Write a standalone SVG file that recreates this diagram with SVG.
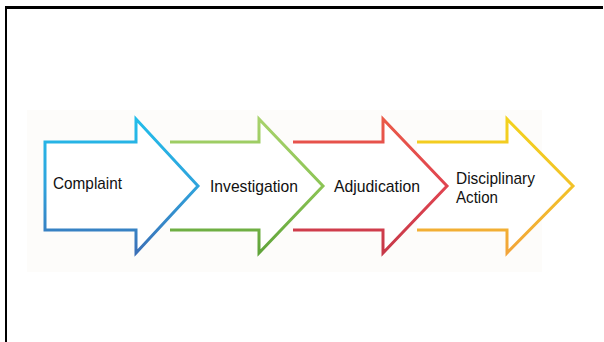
<svg xmlns="http://www.w3.org/2000/svg" width="604" height="342" viewBox="0 0 604 342">
  <style>
    .arrow { fill: #ffffff; stroke-width: 3; stroke-linejoin: miter; stroke-linecap: butt; }
    .open { fill: none; }
    .label { font-family: "Liberation Sans", Arial, sans-serif; font-size: 17px; fill: #111111; }
    .frame { stroke: #000000; fill: none; }
  </style>
  <defs>
    <linearGradient id="gBlue" gradientUnits="userSpaceOnUse" x1="0" y1="118" x2="0" y2="254">
      <stop offset="0" stop-color="#22bdea"/>
      <stop offset="0.5" stop-color="#2fa3dc"/>
      <stop offset="1" stop-color="#3b6fb6"/>
    </linearGradient>
    <linearGradient id="gGreen" gradientUnits="userSpaceOnUse" x1="0" y1="118" x2="0" y2="254">
      <stop offset="0" stop-color="#a8d26c"/>
      <stop offset="0.5" stop-color="#8cc455"/>
      <stop offset="1" stop-color="#5fa339"/>
    </linearGradient>
    <linearGradient id="gRed" gradientUnits="userSpaceOnUse" x1="0" y1="118" x2="0" y2="254">
      <stop offset="0" stop-color="#ea5a48"/>
      <stop offset="0.5" stop-color="#e04450"/>
      <stop offset="1" stop-color="#c63848"/>
    </linearGradient>
    <linearGradient id="gYellow" gradientUnits="userSpaceOnUse" x1="0" y1="118" x2="0" y2="254">
      <stop offset="0" stop-color="#f3d21c"/>
      <stop offset="0.5" stop-color="#f2c228"/>
      <stop offset="1" stop-color="#f2a43a"/>
    </linearGradient>
  </defs>

  <rect x="0" y="0" width="604" height="342" fill="#ffffff"/>
  <rect x="27" y="110" width="515" height="162" fill="#fdfcfa"/>

  <!-- frame: top and left edges -->
  <line class="frame" x1="5" y1="7.5" x2="603" y2="7.5" stroke-width="3"/>
  <line class="frame" x1="6" y1="6" x2="6" y2="342" stroke-width="2"/>

  <g id="connectors"></g>

  <g id="node-disciplinary">
    <path class="arrow" stroke="url(#gYellow)" d="M417,142 L507,142 L507,119 L573,186 L507,253 L507,230 L417,230"/>
    <text class="label" x="456" y="184" textLength="79" lengthAdjust="spacingAndGlyphs">Disciplinary</text>
    <text class="label" x="456" y="203" textLength="42" lengthAdjust="spacingAndGlyphs">Action</text>
  </g>

  <g id="node-adjudication">
    <path class="arrow" stroke="url(#gRed)" d="M293,142 L383,142 L383,119 L447,186 L383,253 L383,230 L293,230"/>
    <text class="label" x="334" y="192" textLength="86" lengthAdjust="spacingAndGlyphs">Adjudication</text>
  </g>

  <g id="node-investigation">
    <path class="arrow" stroke="url(#gGreen)" d="M170,142 L259,142 L259,119 L323,186 L259,253 L259,230 L170,230"/>
    <text class="label" x="210" y="192" textLength="88" lengthAdjust="spacingAndGlyphs">Investigation</text>
  </g>

  <g id="node-complaint">
    <path class="arrow" stroke="url(#gBlue)" d="M45,142 L136,142 L136,119 L198,186 L136,253 L136,230 L45,230 Z"/>
    <text class="label" x="53" y="189" textLength="69" lengthAdjust="spacingAndGlyphs">Complaint</text>
  </g>
</svg>
